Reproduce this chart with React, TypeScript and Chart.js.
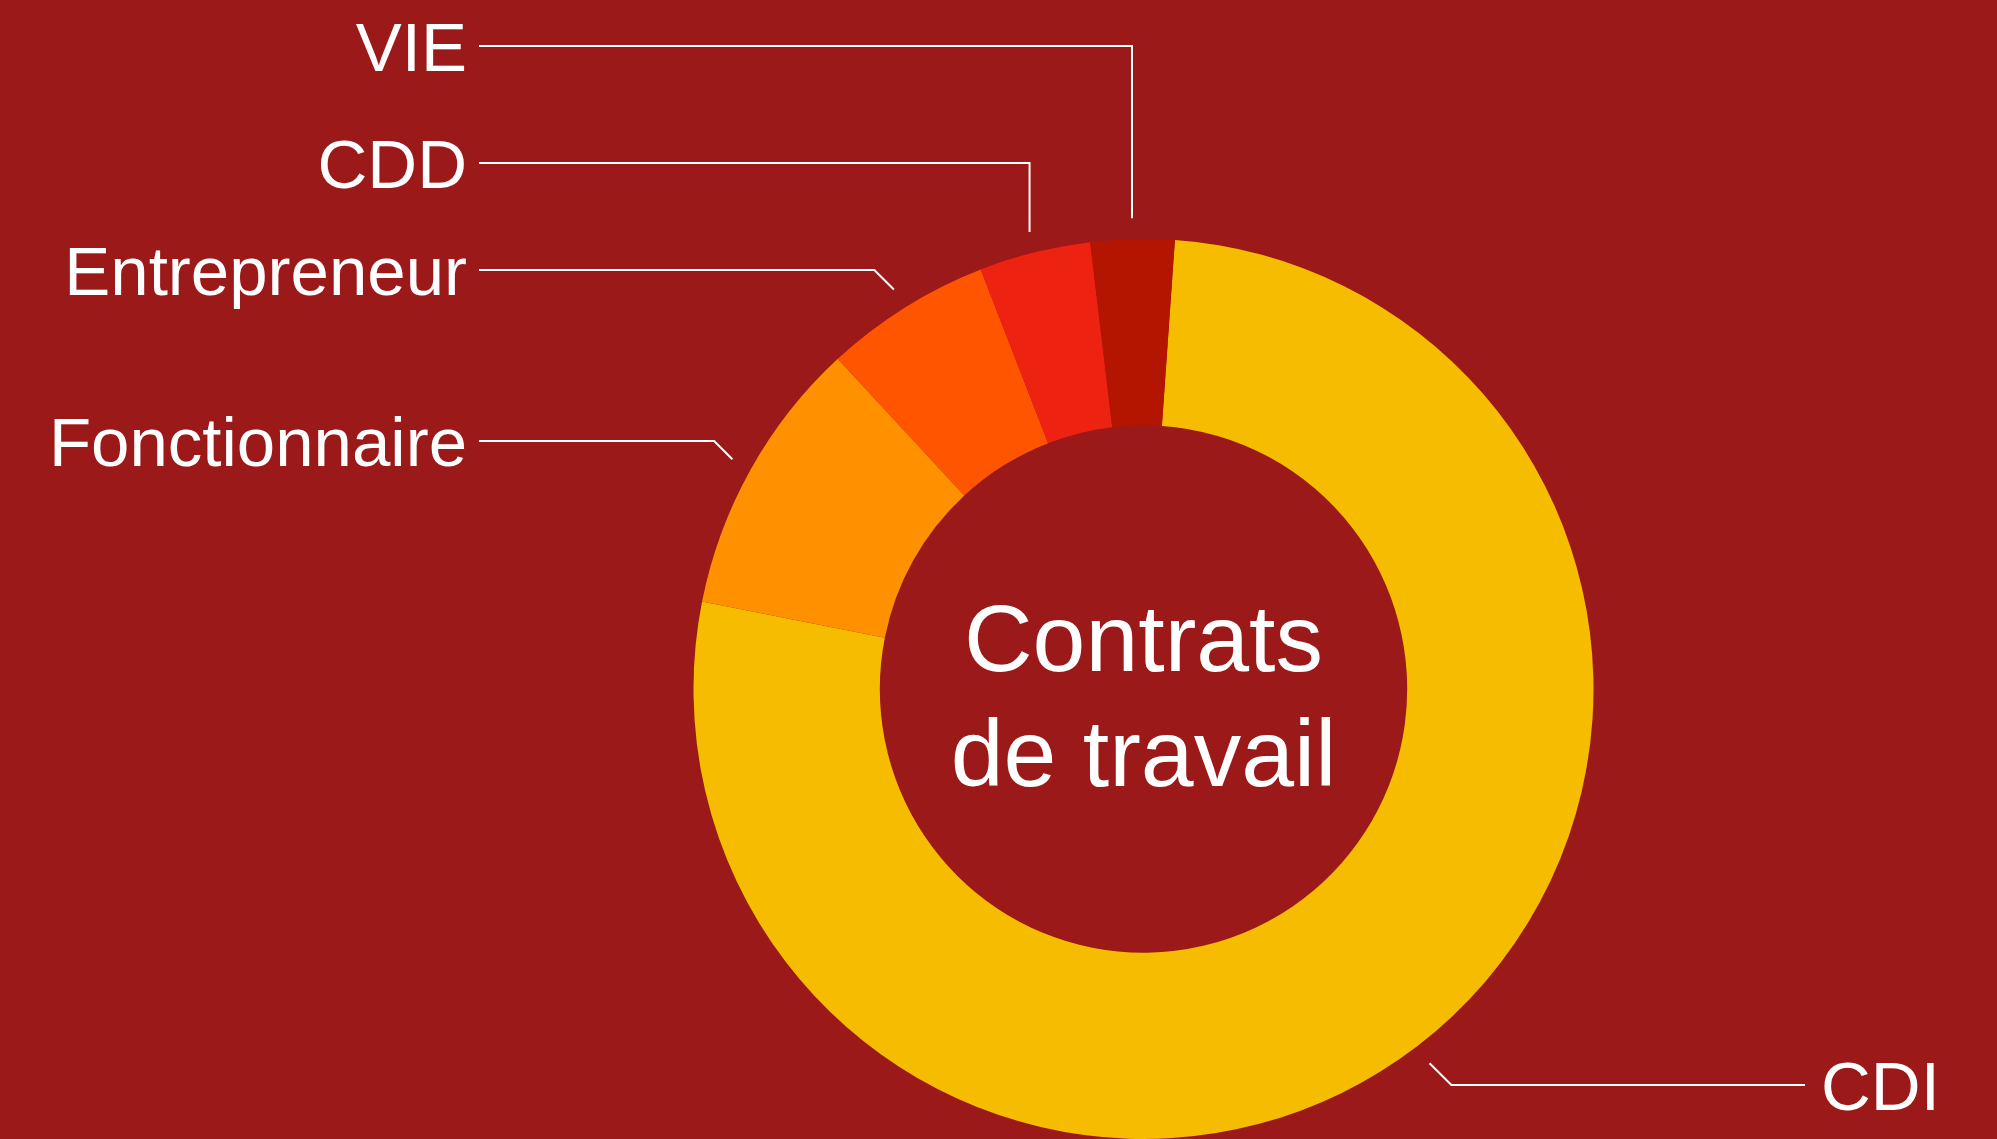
import { useEffect, useRef } from "react";
import { Chart, registerables } from "chart.js";

Chart.register(...registerables);

// ---- data ----
const categories = ["CDI", "Fonctionnaire", "Entrepreneur", "CDD", "VIE"];
const shares = [77, 10, 6, 4, 3];
const sliceColors = ["#F6BC00", "#FF9100", "#FF5500", "#EE2210", "#B31500"];
const centerTitle = ["Contrats", "de travail"];

// ---- style / layout ----
const BG = "#9B1919";
const FONT = "'Liberation Sans', Arial, Helvetica, sans-serif";
const LABEL_SIZE = 69;
const TITLE_SIZE = 95;
// y of each label's horizontal leader line (pixel layout, one per category)
const labelLineY = [1085, 441, 270, 163, 46];
const LEFT_LINE_X = 479;
const LEFT_TEXT_X = 467;
const RIGHT_LINE_X = 1805;
const RIGHT_TEXT_X = 1821;

const leaderPlugin = {
  id: "leaderLabels",
  afterDraw(chart: any) {
    const ctx = chart.ctx as CanvasRenderingContext2D;
    const meta = chart.getDatasetMeta(0);
    ctx.save();
    ctx.strokeStyle = "#FFFFFF";
    ctx.fillStyle = "#FFFFFF";
    ctx.lineWidth = 2;
    meta.data.forEach((arc: any, i: number) => {
      const p = arc.getProps(["x", "y", "startAngle", "endAngle", "outerRadius"], true);
      const mid = (p.startAngle + p.endAngle) / 2;
      const r = p.outerRadius + 21;
      const ax = p.x + Math.cos(mid) * r;
      const ay = p.y + Math.sin(mid) * r;
      const side = ax < p.x ? -1 : 1;
      const ly = labelLineY[i];
      const dy = ly - ay;
      const ex = Math.abs(dy) > 40 ? ax : ax + side * Math.abs(dy);
      const endX = side < 0 ? LEFT_LINE_X : RIGHT_LINE_X;
      ctx.beginPath();
      ctx.moveTo(ax, ay);
      ctx.lineTo(ex, ly);
      ctx.lineTo(endX, ly);
      ctx.stroke();
      ctx.font = `${LABEL_SIZE}px ${FONT}`;
      ctx.textBaseline = "alphabetic";
      ctx.textAlign = side < 0 ? "right" : "left";
      ctx.fillText(categories[i], side < 0 ? LEFT_TEXT_X : RIGHT_TEXT_X, ly + 25);
    });
    // center title
    const a0 = meta.data[0];
    if (a0) {
      const c = a0.getProps(["x", "y"], true);
      ctx.font = `${TITLE_SIZE}px ${FONT}`;
      ctx.textAlign = "center";
      ctx.textBaseline = "alphabetic";
      ctx.fillText(centerTitle[0], c.x, c.y - 18);
      ctx.fillText(centerTitle[1], c.x, c.y + 97);
    }
    ctx.restore();
  },
};

export default function App() {
  const ref = useRef<HTMLCanvasElement>(null);
  useEffect(() => {
    const chart = new Chart(ref.current as HTMLCanvasElement, {
      type: "doughnut",
      data: {
        labels: categories,
        datasets: [
          {
            data: shares,
            backgroundColor: sliceColors,
            borderWidth: 0,
            hoverOffset: 0,
            offset: 0,
          } as any,
        ],
      },
      options: {
        responsive: false,
        animation: false,
        events: [],
        rotation: 4,
        cutout: "58.6%",
        radius: 450,
        layout: { padding: { left: 693.5, top: 239, right: 403.5, bottom: 0 } },
        plugins: { legend: { display: false }, tooltip: { enabled: false } },
      } as any,
      plugins: [leaderPlugin],
    });
    return () => chart.destroy();
  }, []);
  return (
    <div
      style={{
        position: "fixed",
        left: 0,
        top: 0,
        width: 1997,
        height: 1139,
        background: BG,
        overflow: "hidden",
      }}
    >
      <canvas ref={ref} width={1997} height={1139} style={{ display: "block" }} />
    </div>
  );
}
